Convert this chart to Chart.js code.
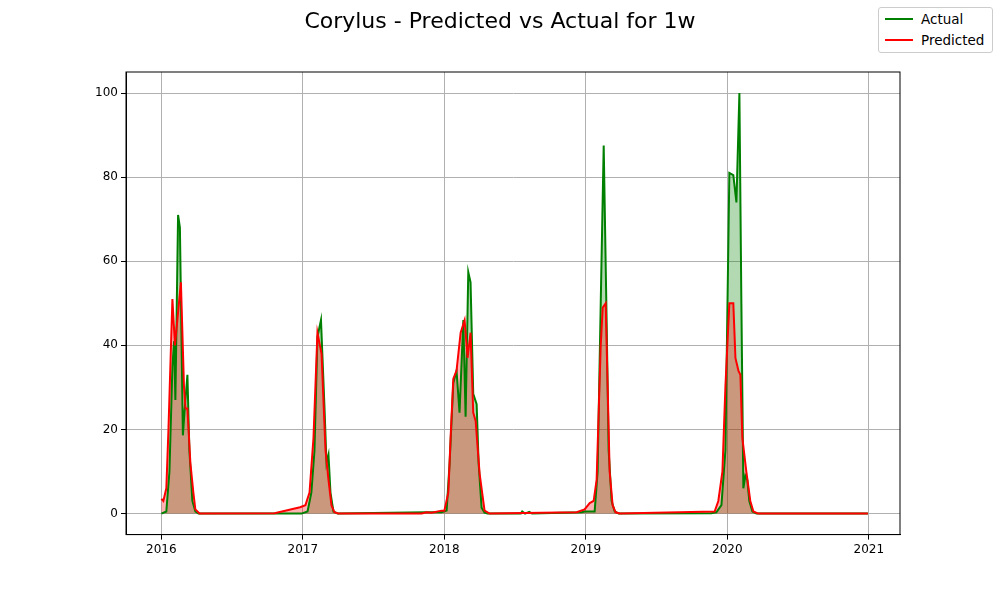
<!DOCTYPE html>
<html><head><meta charset="utf-8">
<script src="https://cdn.jsdelivr.net/npm/chart.js@4/dist/chart.umd.min.js"></script>
<style>
body{margin:0;background:#fff;font-family:"DejaVu Sans",sans-serif}
#wrap{position:relative;width:1000px;height:600px}
#title{position:absolute;top:8px;left:0;width:1000px;text-align:center;font-size:22px}
#legend{position:absolute;left:878px;top:7px;width:113px;height:44px;border:1px solid #ccc;border-radius:3px;font-size:13.5px;background:#fff}
#legend div{display:flex;align-items:center;height:21px;padding-left:6px}
#legend span{display:inline-block;width:28px;height:2px;margin-right:8px}
</style></head><body>
<div id="wrap">
<canvas id="c" width="1000" height="600"></canvas>
<div id="title">Corylus - Predicted vs Actual for 1w</div>
<div id="legend"><div><span style="background:green"></span>Actual</div><div><span style="background:red"></span>Predicted</div></div>
</div>
<script>
const actualYears = [2016.0,2016.035,2016.057,2016.078,2016.09,2016.099,2016.118,2016.131,2016.152,2016.163,2016.184,2016.198,2016.219,2016.24,2016.262,2016.5,2016.99,
  2017.033,2017.06,2017.082,2017.103,2017.128,2017.153,2017.167,2017.181,2017.195,2017.216,2017.245,
  2017.874,2017.98,2018.016,2018.037,2018.063,2018.086,2018.107,2018.134,2018.15,2018.169,2018.185,2018.204,2018.228,2018.242,2018.263,2018.284,2018.305,2018.54,2018.55,2018.57,2018.6,2018.62,
  2018.97,2018.991,2019.062,2019.083,2019.105,2019.126,2019.147,2019.161,2019.182,2019.204,2019.232,
  2019.886,2019.922,2019.958,2019.986,2020.014,2020.042,2020.064,2020.085,2020.099,2020.113,2020.127,2020.141,2020.155,2020.177,2020.205,2020.993];
const actualValues = [0,0.5,10,35,41,27,71,68,18.6,24,33,15,3,0.5,0,0,0,
  0.5,5,15,42,46,25,12,14,5,0.5,0,
  0.3,0.3,0.7,12,31,34,24,46,23,57.4,55,28.5,26,12,1.4,0.2,0,0,0.5,0,0.4,0,
  0.3,0.5,0.5,10,50,87.5,45,15,3,0.5,0,
  0.1,0.3,2,15,81,80.5,74,100,50,6,9,8,3,0.5,0,0];
const predYears = [2016.0,2016.014,2016.035,2016.05,2016.078,2016.096,2016.138,2016.16,2016.171,2016.184,2016.205,2016.226,2016.24,2016.27,2016.8,2016.98,
  2017.018,2017.047,2017.075,2017.103,2017.132,2017.16,2017.181,2017.202,2017.223,2017.25,
  2017.84,2017.874,2017.91,2017.98,2018.0,2018.028,2018.044,2018.063,2018.086,2018.115,2018.143,2018.164,2018.185,2018.204,2018.221,2018.249,2018.284,2018.32,
  2018.935,2018.991,2019.027,2019.055,2019.076,2019.105,2019.119,2019.14,2019.154,2019.168,2019.189,2019.21,2019.24,
  2019.91,2019.936,2019.965,2019.986,2020.014,2020.042,2020.057,2020.078,2020.092,2020.106,2020.134,2020.162,2020.184,2020.218,2020.993];
const predValues = [3.5,3,6,20,51,40,55,30,25,25,12,5,1,0,0.1,1.5,
  2,5,18,43,38,15,8,2,0.3,0,
  0,0.3,0.2,0.7,0.7,5,18,32,34,43,46,37,43,24,22,9.5,0.7,0,
  0.3,1,2.5,3,8,40,49,50,30,10,2,0.3,0,
  0.5,3,10,30,50,50,37,34,33,18,10,3,0.5,0,0];
const yearTicks = [2016,2017,2018,2019,2020,2021];

const pts = (xs, ys) => xs.map((x, i) => ({x: x, y: ys[i]}));
const font = {family: 'DejaVu Sans', size: 12};
const line = (d, c) => ({data: d, borderColor: c, borderWidth: 2, pointRadius: 0, tension: 0, fill: false});
const area = (d, c) => ({data: d, borderWidth: 0, backgroundColor: c, pointRadius: 0, tension: 0, fill: 'origin'});

// draw a full box round the plot, like matplotlib spines
const frame = {
  id: 'frame',
  afterDraw(chart) {
    const a = chart.chartArea, g = chart.ctx;
    g.save(); g.strokeStyle = '#000'; g.lineWidth = 1;
    g.strokeRect(a.left, a.top, a.right - a.left, a.bottom - a.top);
    g.restore();
  }
};

new Chart(document.getElementById('c'), {
  type: 'line',
  data: {datasets: [
    line(pts(predYears, predValues), 'red'),
    line(pts(actualYears, actualValues), 'green'),
    area(pts(predYears, predValues), 'rgba(255,0,0,0.3)'),
    area(pts(actualYears, actualValues), 'rgba(0,128,0,0.3)')
  ]},
  options: {
    responsive: false, animation: false,
    layout: {padding: {left: 76, right: 100, top: 72, bottom: 40}},
    plugins: {legend: {display: false}, tooltip: {enabled: false}},
    scales: {
      x: {type: 'linear', min: 2015.75, max: 2021.22,
        afterBuildTicks: ax => { ax.ticks = yearTicks.map(v => ({value: v})); },
        ticks: {color: '#000', font: font, callback: v => String(v), maxRotation: 0},
        grid: {color: '#b0b0b0', tickColor: '#000', tickLength: 5},
        border: {color: '#000'}},
      y: {min: -5, max: 105,
        afterBuildTicks: ax => { ax.ticks = [0,20,40,60,80,100].map(v => ({value: v})); },
        afterFit: ax => { ax.width = 50; },
        ticks: {color: '#000', font: font},
        grid: {color: '#b0b0b0', tickColor: '#000', tickLength: 5},
        border: {color: '#000'}}
    }
  },
  plugins: [frame]
});
</script>
</body></html>
